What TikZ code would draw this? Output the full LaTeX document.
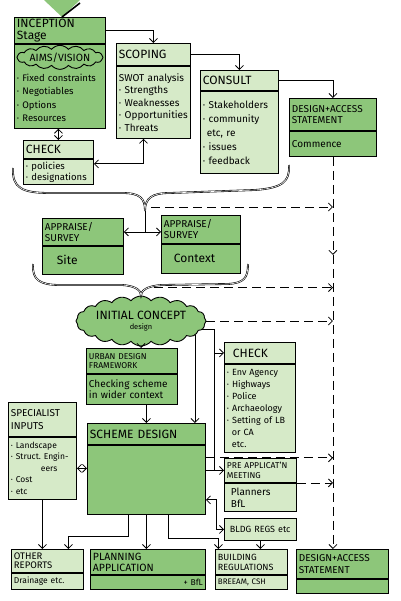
\documentclass[tikz,border=0pt]{standalone}
\usepackage{fontspec}
\setmainfont{Fira Sans}
\usetikzlibrary{positioning,shapes.symbols,arrows.meta,decorations.markings}

\definecolor{dkgreen}{RGB}{141,198,122}
\definecolor{ltgreen}{RGB}{214,234,200}

\tikzset{
  box/.style={draw, line width=0.9pt, inner xsep=2.5pt, inner ysep=1pt,
    align=left, font=\fontsize{10}{12.5}\selectfont},
  dark/.style={box, fill=dkgreen},
  light/.style={box, fill=ltgreen},
  hbig/.style={font=\fontsize{12}{12}\selectfont},
  hsmall/.style={font=\fontsize{10}{11}\selectfont},
  link/.style={line width=0.8pt},
  dashlink/.style={link, dash pattern=on 9pt off 5pt},
  brace/.style={double, double distance=0.6pt, line width=0.6pt},
  blob/.style={cloud, draw, fill=dkgreen, line width=0.9pt, inner sep=0pt}
}

\begin{document}
\begin{tikzpicture}[x=1pt,y=-1pt,>={Straight Barb[length=4pt,width=8pt]}]
    \useasboundingbox[fill=white] (0,0) rectangle (400,601);

    % start arrow
    \fill[dkgreen] (44,0) -- (80,0) -- (62,17) -- cycle;
    \draw[line width=1.6pt] (80,3) -- (62,17);

    % inception stage
    \node[dark, hbig, anchor=north west, text width=86pt, minimum height=26pt] (incep) at (14,17) {INCEPTION\\Stage};
    \node[dark, below=0pt of incep, text width=86pt, minimum height=84pt] (incep b) {};
    \node[blob, cloud puffs=16, cloud puff arc=100, aspect=3.6, minimum width=86pt, minimum height=24pt, below=1pt of incep,
          label={[name=aims t, font=\fontsize{10.5}{10}\selectfont]center:AIMS/VISION}] (aims) {};
    \node[below=4pt of aims, text width=86pt, inner sep=0pt, align=left,
          font=\fontsize{9.5}{13.5}\selectfont] (incep l) {·~Fixed~constraints\\·~Negotiables\\·~Options\\·~Resources};

    \node[light, hbig, anchor=north west, text width=65pt, minimum height=18pt] (check1) at (23,140) {CHECK};
    \node[light, below=0pt of check1, text width=65pt, minimum height=25pt,
          font=\fontsize{9.5}{11}\selectfont] (check1 b) {·~policies\\·~designations};

    \node[light, hbig, anchor=north west, text width=69pt, minimum height=22pt] (scoping) at (116,43) {SCOPING};
    \node[light, below=0pt of scoping, text width=69pt, minimum height=72pt] (scoping b) {SWOT~analysis\\·~Strengths\\·~Weaknesses\\·~Opportunities\\·~Threats};

    \node[light, hbig, anchor=north west, text width=73pt, minimum height=20pt] (consult) at (200,70) {CONSULT};
    \node[light, below=0pt of consult, text width=73pt, minimum height=82pt,
          font=\fontsize{10}{14}\selectfont] (consult b) {·~Stakeholders\\·~community\\\hspace*{4pt}etc, re\\·~issues\\·~feedback};

    \node[dark, hsmall, anchor=north west, text width=82pt, minimum height=32pt] (da1) at (289,98) {DESIGN+ACCESS\\STATEMENT};
    \node[dark, below=0pt of da1, text width=82pt, minimum height=25pt] (da1 b) {Commence};

    % appraise / survey
    \node[dark, hsmall, anchor=north west, text width=76pt, minimum height=27pt] (site) at (42,218) {APPRAISE/\\SURVEY};
    \node[dark, below=0pt of site, text width=76pt, minimum height=28pt,
          font=\fontsize{12}{12}\selectfont] (site b) {\hspace*{12pt}Site};
    \node[dark, hsmall, anchor=north west, text width=74pt, minimum height=28pt] (context) at (161,215) {APPRAISE/\\SURVEY};
    \node[dark, below=0pt of context, text width=74pt, minimum height=29pt,
          font=\fontsize{12}{12}\selectfont] (context b) {\hspace*{10pt}Context};

    % initial concept
    \node[blob, cloud puffs=20, cloud puff arc=100, aspect=2.6, minimum width=130pt, minimum height=50pt,
          label={[name=concept t, align=center, font=\fontsize{12}{10}\selectfont]center:{INITIAL CONCEPT\\{\fontsize{7.5}{7.5}\selectfont design}}}] (concept) at (141,321) {};

    \node[dark, anchor=north west, text width=86pt, minimum height=25pt,
          font=\fontsize{8.5}{9.5}\selectfont] (udf) at (86,348) {URBAN DESIGN\\FRAMEWORK};
    \node[dark, below=0pt of udf, text width=86pt, minimum height=30pt,
          font=\fontsize{10}{11.5}\selectfont] (udf b) {Checking scheme\\in wider context};

    \node[light, hbig, anchor=north west, text width=66pt, minimum height=21pt] (check2) at (224,342) {\hspace*{6pt}CHECK};
    \node[light, below=0pt of check2, text width=66pt, minimum height=88pt,
          font=\fontsize{9}{12}\selectfont] (check2 b) {·~Env~Agency\\·~Highways\\·~Police\\·~Archaeology\\·~Setting~of~LB\\\hspace*{5pt}or CA\\\hspace*{5pt}etc.};

    \node[light, anchor=north west, text width=63pt, minimum height=34pt,
          font=\fontsize{10}{12.5}\selectfont] (spec) at (8,402) {SPECIALIST\\INPUTS};
    \node[light, below=0pt of spec, text width=63pt, minimum height=62pt,
          font=\fontsize{8.5}{11.5}\selectfont] (spec b) {·~Landscape\\·~Struct.~Engin-\\\hspace*{30pt}eers\\·~Cost\\·~etc};

    \node[dark, anchor=north west, text width=113pt, minimum height=21pt,
          font=\fontsize{12}{12}\selectfont] (scheme) at (87,423) {SCHEME DESIGN};
    \node[dark, below=0pt of scheme, text width=113pt, minimum height=69pt] (scheme b) {};

    \node[light, anchor=north west, text width=67pt, minimum height=24pt,
          font=\fontsize{8.5}{9.5}\selectfont] (preapp) at (224,458) {PRE~APPLICAT'N\\MEETING};
    \node[light, below=0pt of preapp, text width=67pt, minimum height=28pt,
          font=\fontsize{10}{12}\selectfont] (preapp b) {\hspace*{4pt}Planners\\\hspace*{4pt}BfL};

    \node[light, anchor=north west, text width=67pt, minimum height=22pt,
          font=\fontsize{9}{9}\selectfont] (bldgregs) at (224,518) {\hspace*{3pt}BLDG REGS etc};

    % outputs
    \node[light, anchor=north west, text width=67pt, minimum height=23pt,
          font=\fontsize{9.5}{9.5}\selectfont] (other) at (11,549) {OTHER\\REPORTS};
    \node[light, below=0pt of other, text width=67pt, minimum height=16pt,
          font=\fontsize{8.5}{9}\selectfont] (other b) {Drainage etc.};

    \node[dark, anchor=north west, text width=110pt, minimum height=25pt,
          font=\fontsize{10.5}{11}\selectfont] (planning) at (90,549) {PLANNING\\APPLICATION};
    \node[dark, below=0pt of planning, text width=110pt, minimum height=14pt, align=right,
          font=\fontsize{8.5}{9}\selectfont] (planning b) {+ BfL\hspace*{18pt}};

    \node[light, anchor=north west, text width=67pt, minimum height=25pt,
          font=\fontsize{9}{10}\selectfont] (buildreg) at (215,549) {BUILDING\\REGULATIONS};
    \node[light, below=0pt of buildreg, text width=67pt, minimum height=14pt,
          font=\fontsize{8}{8}\selectfont] (buildreg b) {BREEAM, CSH};

    \node[dark, anchor=north west, text width=87pt, minimum height=29pt,
          font=\fontsize{10}{11.5}\selectfont] (da2) at (296,549) {DESIGN+ACCESS\\STATEMENT};
    \node[dark, below=0pt of da2, text width=87pt, minimum height=14pt] (da2 b) {};

    % braces
    \coordinate (brace1) at (145,211);
    \coordinate (brace2) at (concept.north);
    \draw[brace] (13,168) .. controls (12,188) and (22,193) .. (50,193) -- (122,193)
        .. controls (140,193) and (145,198) .. (brace1)
        .. controls (145,198) and (152,193) .. (170,193) -- (255,190)
        .. controls (282,188) and (290,182) .. (289,165);
    \draw[brace] (33,264) .. controls (32,280) and (40,285) .. (60,285) -- (122,285)
        .. controls (137,286) and (141,291) .. (brace2)
        .. controls (141,291) and (146,286) .. (162,285) -- (228,284)
        .. controls (244,283) and (248,278) .. (248,264);

    % connectors
    \draw[link,<->] (check1.north) -- (check1.north |- incep b.south);
    \draw[link,->] (incep.east) -| (scoping.north);
    \draw[link,<->] ([yshift=8pt]check1 b.east) -| ([xshift=-10pt]scoping b.south);
    \draw[link,->] (scoping.east) -| (consult.north);
    \draw[link,->] (consult.east) -| (da1.north);

    \draw[link] (brace1) -- (brace1 |- site.east);
    \draw[link,<->] (site.east) -- (site.east -| context.west);

    \draw[link,->] (concept.south) -- (concept.south |- udf.north);
    \draw[link,->] (udf b.south -| scheme.north) -- (scheme.north);
    \draw[link,->] (concept.-15) -- (concept.-15 |- scheme.north);
    \coordinate (trunk) at ([xshift=-10pt]check2.west);
    \draw[link,->] (concept.-8) -| (trunk) -- (check2.west);
    \draw[link,->] (trunk) |- (preapp.west);
    \draw[link] (preapp.west -| scheme b.east) -- (preapp.west -| trunk);
    \draw[link,<->] ([yshift=-20pt]scheme b.east) -| ([xshift=-8pt]bldgregs.west) -- (bldgregs.west);
    \draw[link,<->] (spec b.east) -- (spec b.east -| scheme b.west);

    \draw[link,->] (spec b.south) -- (spec b.south |- other.north);
    \draw[link,->] ([xshift=-18pt]scheme b.south) -- ++(0,22) -| ([xshift=21pt]other.north);
    \draw[link,->] (scheme b.south) -- (scheme b.south |- planning.north);
    \draw[link,->] ([xshift=22pt]scheme b.south) -- ++(0,24) -| ([xshift=-33pt]buildreg.north);
    \draw[link,->] (bldgregs.south) -- (bldgregs.south |- buildreg.north);

    % design + access thread
    \draw[dashlink,->,decoration={markings, mark=at position 0.25 with {\arrow{>}}},
          postaction={decorate}] (da1 b.south) -- (da1 b.south |- da2.north);
    \coordinate (d1) at ([shift={(6,-4)}]brace1);
    \coordinate (d2) at ([shift={(13,-8)}]brace2);
    \coordinate (d4) at ([yshift=22pt]scheme b.east);
    \draw[dashlink,->] (d1) -- (d1 -| da1 b.south);
    \draw[dashlink,->] (d2) -- (d2 -| da1 b.south);
    \draw[dashlink,->] (concept.east) -- (concept.east -| da1 b.south);
    \draw[dashlink,->] (d4) -- (d4 -| da1 b.south);
    \draw[dashlink,->] (preapp b.north east) -- (preapp b.north east -| da1 b.south);
\end{tikzpicture}
\end{document}
